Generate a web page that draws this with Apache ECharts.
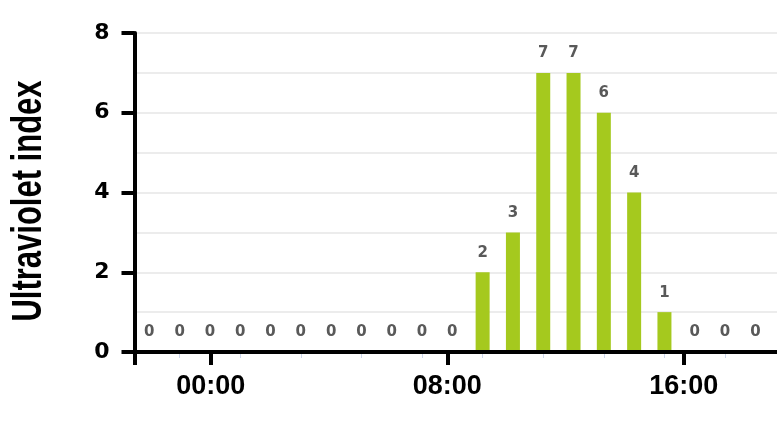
<!DOCTYPE html>
<html>
<head>
<meta charset="utf-8">
<script src="https://cdn.jsdelivr.net/npm/echarts@6/dist/echarts.min.js"></script>
<style>
  html, body { margin: 0; padding: 0; background: #ffffff; }
  #chart { width: 777px; height: 437px; }
</style>
</head>
<body>
<div id="chart"></div>
<script>
// Hourly UV index, 22:00 through 18:00
const hours = ['22:00', '23:00', '00:00', '01:00', '02:00', '03:00', '04:00', '05:00',
  '06:00', '07:00', '08:00', '09:00', '10:00', '11:00', '12:00', '13:00', '14:00',
  '15:00', '16:00', '17:00', '18:00'];
const uvIndex = [0, 0, 0, 0, 0, 0, 0, 0, 0, 0, 0, 2, 3, 7, 7, 6, 4, 1, 0, 0, 0];

// Axis ticks
const yTicks = [0, 2, 4, 6, 8];
const timeTicks = [0, 8, 16]; // hours of day shown on the time axis

const pad2 = (n) => (n < 10 ? '0' : '') + n;

const chart = echarts.init(document.getElementById('chart'), null, { renderer: 'canvas' });

// range of the bold time axis, in hours
const timeMin = -2.58;
const timeMax = 19.15;

chart.setOption({
  backgroundColor: '#ffffff',
  animation: false,
  grid: [
    // plot area for the bars
    { left: 134.15, right: 6.5, top: 33, bottom: 85 },
    // frame with the bold axes and the grid lines
    { left: 134.5, right: 0, top: 33, bottom: 85 }
  ],
  xAxis: [
    {
      type: 'category',
      gridIndex: 0,
      data: hours,
      boundaryGap: true,
      axisLine: { show: false },
      axisTick: {
        show: true,
        alignWithLabel: true,
        interval: (i) => i % 2 === 1,
        length: 6,
        lineStyle: { color: '#ccd6eb', width: 1 }
      },
      axisLabel: { show: false },
      splitLine: { show: false }
    },
    {
      type: 'value',
      gridIndex: 1,
      min: timeMin,
      max: timeMax,
      z: 5,
      axisLine: { show: true, onZero: false, lineStyle: { color: '#000000', width: 4 } },
      axisTick: {
        show: true,
        customValues: [timeMin].concat(timeTicks),
        length: 13,
        lineStyle: { color: '#000000', width: 4 }
      },
      axisLabel: {
        show: true,
        customValues: timeTicks,
        formatter: (v) => pad2(Math.round(v)) + ':00',
        margin: 21,
        color: '#000000',
        fontFamily: '"Liberation Sans", Arial, sans-serif',
        fontWeight: 'bold',
        fontSize: 27
      },
      splitLine: { show: false }
    }
  ],
  yAxis: [
    {
      type: 'value',
      gridIndex: 0,
      min: yTicks[0],
      max: yTicks[yTicks.length - 1],
      show: false
    },
    {
      type: 'value',
      gridIndex: 1,
      min: yTicks[0],
      max: yTicks[yTicks.length - 1],
      interval: yTicks[1] - yTicks[0],
      axisLine: { show: true, onZero: false, lineStyle: { color: '#000000', width: 4 } },
      axisTick: { show: true, length: 13, lineStyle: { color: '#000000', width: 4 } },
      axisLabel: {
        show: true,
        margin: 25,
        color: '#000000',
        fontFamily: '"DejaVu Sans", sans-serif',
        fontWeight: 'bold',
        fontSize: 22
      },
      splitLine: { show: true, lineStyle: { color: '#e6e6e6', width: 1.5 } },
      minorTick: { show: false, splitNumber: 2 },
      minorSplitLine: { show: true, lineStyle: { color: '#e6e6e6', width: 1.5 } }
    }
  ],
  series: [
    {
      type: 'bar',
      xAxisIndex: 0,
      yAxisIndex: 0,
      data: uvIndex,
      barWidth: 14,
      itemStyle: { color: '#a5c91e' },
      label: {
        show: true,
        position: 'top',
        distance: 12,
        color: '#595959',
        fontFamily: '"DejaVu Sans", sans-serif',
        fontWeight: 'bold',
        fontSize: 15
      }
    }
  ],
  graphic: [
    {
      type: 'text',
      x: 29,
      y: 201,
      rotation: Math.PI / 2,
      scaleY: 1.4,
      style: {
        text: 'Ultraviolet index',
        fill: '#000000',
        font: 'bold 31px "Liberation Sans", Arial, sans-serif',
        align: 'center',
        verticalAlign: 'middle'
      }
    }
  ]
});
</script>
</body>
</html>
